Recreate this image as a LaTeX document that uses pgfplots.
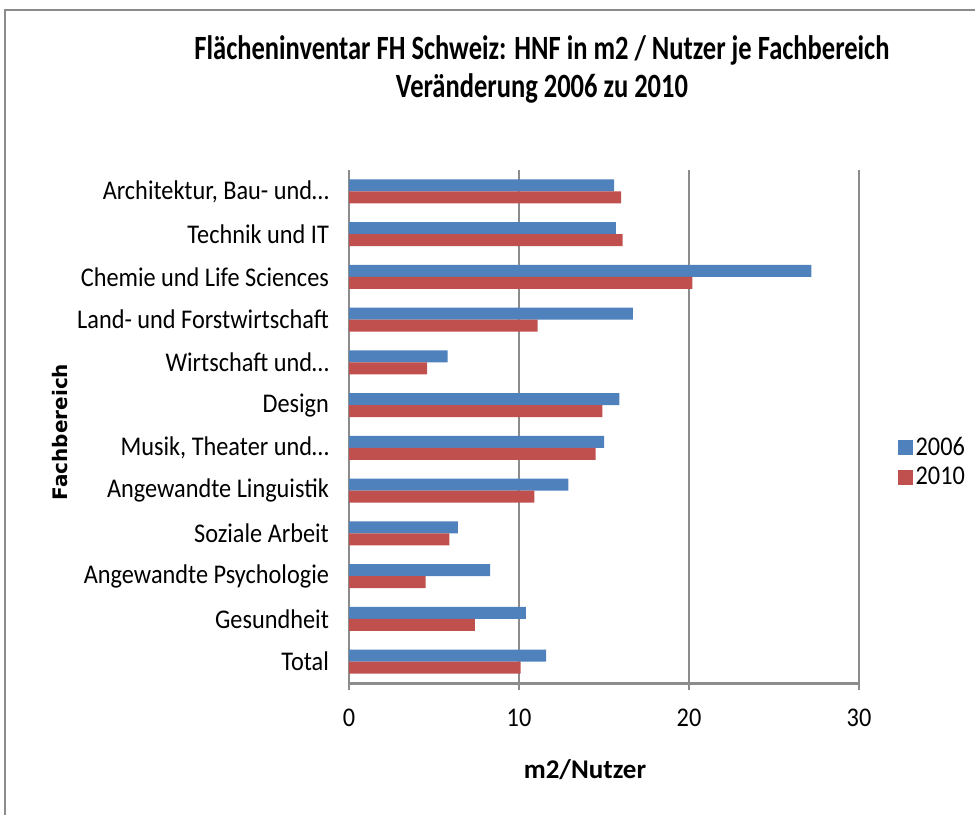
\documentclass[border=0pt]{standalone}
\usepackage{pgfplots}
\pgfplotsset{compat=1.18}
\usepackage{fontspec}
\setmainfont{Carlito}
\newfontfamily\titlefont[FakeStretch=0.78]{Carlito}
\newfontfamily\labelfont[FakeStretch=0.9]{Carlito}
\newfontfamily\dejavu{DejaVu Sans}
\definecolor{blueA}{HTML}{4F81BD}
\definecolor{redA}{HTML}{C0504D}
\definecolor{gridG}{HTML}{8C8C8C}
\begin{document}
\begin{tikzpicture}
\path[use as bounding box] (0,0) rectangle (487.5pt,407.5pt);
\draw[gridG, line width=1pt] (2.5pt,0) -- (2.5pt,402.5pt) -- (490pt,402.5pt);
\node[font=\titlefont\bfseries\fontsize{17}{19}\selectfont] at (271pt,382.5pt) {Flächeninventar FH Schweiz: HNF in m2 / Nutzer je Fachbereich};
\node[font=\titlefont\bfseries\fontsize{17}{19}\selectfont] at (271pt,363.5pt) {Veränderung 2006 zu 2010};
\node[font=\dejavu\bfseries\fontsize{10}{11}\selectfont, rotate=90] at (30pt,191.5pt) {Fachbereich};
\node[font=\bfseries\fontsize{13.5}{15}\selectfont] at (292.5pt,22.5pt) {m2/Nutzer};
\begin{axis}[
  at={(174.5pt,66pt)}, anchor=south west, scale only axis,
  width=255pt, height=256.5pt,
  xbar, bar width=6pt,
  xmin=0, xmax=30, ymin=-0.5, ymax=11.5,
  xtick={0,10,20,30},
  ytick={0,1,2,3,4,5,6,7,8,9,10,11},
  yticklabels={Total, Gesundheit, Angewandte Psychologie, Soziale Arbeit, Angewandte Linguistik, {Musik, Theater und…}, Design, Wirtschaft und…, Land- und Forstwirtschaft, Chemie und Life Sciences, Technik und IT, {Architektur, Bau- und…}},
  xmajorgrids, grid style={gridG, line width=0.75pt},
  axis x line*=bottom, axis y line*=left,
  x axis line style={gridG, line width=1.5pt, -},
  y axis line style={gridG, line width=0.9pt, -},
  xtick style={gridG, line width=0.75pt},
  tick align=outside, major tick length=3.5pt,
  ytick style={draw=none},
  /pgf/number format/assume math mode=true,
  ticklabel style={font=\labelfont\fontsize{13.5}{15}\selectfont},
  xticklabel style={yshift=-6pt},
  yticklabel style={xshift=-3pt},
  legend style={at={(1.075,0.43)}, anchor=west, draw=none, fill=none,
    font=\labelfont\fontsize{13.5}{15}\selectfont, row sep=1.5pt, legend cell align=left,
    inner sep=0pt, nodes={inner sep=1.5pt}},
]
\addplot[fill=blueA, draw=none, bar shift=3pt,
  legend image code/.code={\fill[blueA] (0pt,-3.7pt) rectangle (7.5pt,3.7pt);}]
  coordinates {(11.6,0) (10.4,1) (8.3,2) (6.4,3) (12.9,4) (15.0,5) (15.9,6) (5.8,7) (16.7,8) (27.2,9) (15.7,10) (15.6,11)};
\addplot[fill=redA, draw=none, bar shift=-3pt,
  legend image code/.code={\fill[redA] (0pt,-3.7pt) rectangle (7.5pt,3.7pt);}]
  coordinates {(10.1,0) (7.4,1) (4.5,2) (5.9,3) (10.9,4) (14.5,5) (14.9,6) (4.6,7) (11.1,8) (20.2,9) (16.1,10) (16.0,11)};
\legend{2006,2010}
\end{axis}
\end{tikzpicture}
\end{document}
